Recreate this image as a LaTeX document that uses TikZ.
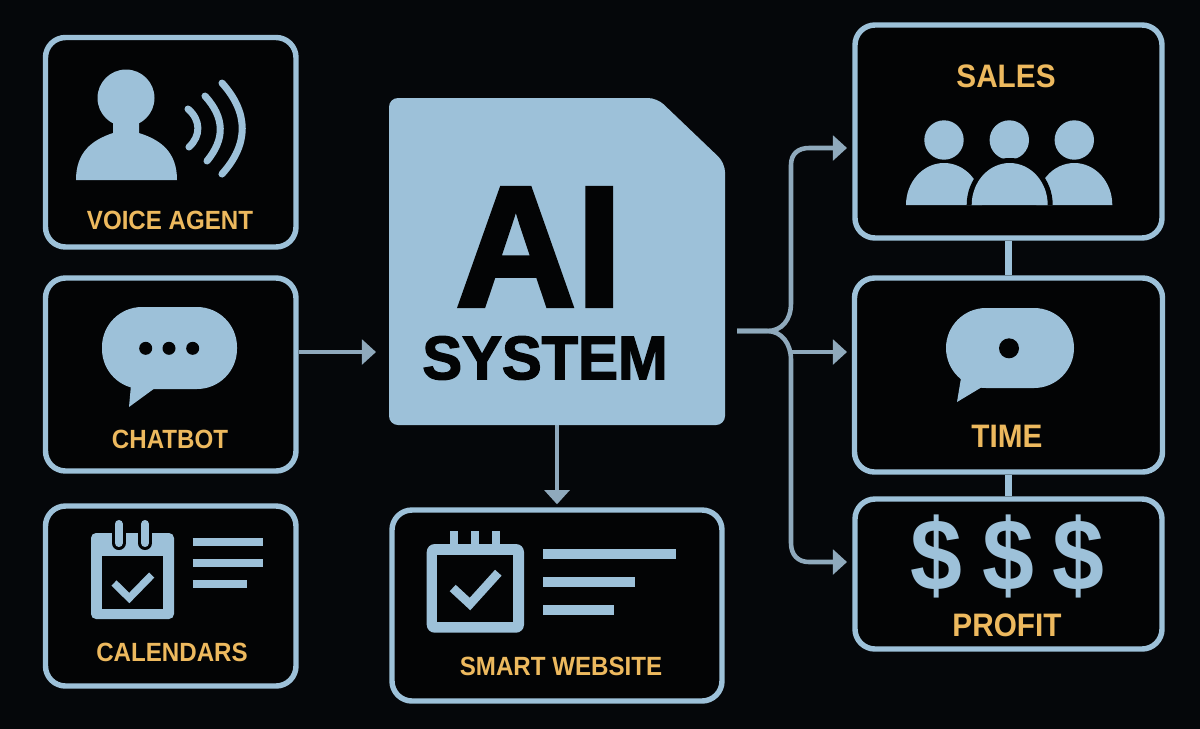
\documentclass[tikz,border=0pt]{standalone}
\usepackage{fontspec}
\usetikzlibrary{arrows.meta}
\setmainfont{Liberation Sans}
\newfontfamily\tagfont[FakeStretch=0.915]{Liberation Sans}
\newfontfamily\headfont[FakeStretch=0.97, BoldFeatures={FakeBold=2.2}]{Liberation Sans}
\definecolor{canvas}{HTML}{05070A}
\definecolor{panel}{HTML}{030405}
\definecolor{sky}{HTML}{9DC1D9}
\definecolor{amber}{HTML}{EDB95E}
\definecolor{steel}{HTML}{8FA9BC}
\def\px{0.02cm}
\tikzset{
	box/.style = {draw = sky, fill = panel, line width = 3.1pt, rounded corners = 0.4cm, inner sep = 0mm},
	boxtag/.style = {font = \tagfont\bfseries\fontsize{15}{15}\selectfont, text = amber, inner sep = 0mm},
	bigtag/.style = {font = \tagfont\bfseries\fontsize{18.5}{18.5}\selectfont, text = amber, inner sep = 0mm},
	icon/.style = {fill = sky},
	bar/.style = {draw = sky, line width = 4.5pt},
	wave/.style = {draw = sky, line width = 4pt, line cap = round},
	tick/.style = {draw = sky, line width = 4.2pt},
	hole/.style = {fill = panel},
	link/.style = {draw = steel, line width = 2.6pt, -{Triangle[length = 8pt, width = 14pt]}},
	joint/.style = {draw = sky, line width = 3.8pt},
	coin/.style = {font = \tagfont\bfseries\fontsize{58}{58}\selectfont, text = sky, inner sep = 0mm}
}

\begin{document}
\begin{tikzpicture}[x = 0.02cm, y = -0.02cm]
	\useasboundingbox (0, 0) rectangle (1200, 728);
	\fill [canvas] (-5, -5) rectangle (1205, 733);

	% panels
	\foreach\name/\x/\y/\w/\h in {
		voice/170.75/142.25/250.5/209.5, chat/170.75/374.5/250.5/193, cal/170.75/596/250.5/180,
		web/557/605.5/330/191,
		sales/1008.5/131.5/307/213, time/1008.5/375/308/194, profit/1008.5/574/307/150
	}{
		\node [box, minimum width = \w*\px, minimum height = \h*\px] (\name) at (\x, \y) {};
	}

	% centre block
	\node [inner sep = 0mm, minimum width = 336*\px, minimum height = 327*\px] (ai) at (557, 261.5) {};
	\fill [sky, rounded corners = 0.18cm] (389, 98) -- (657, 98) -- (725, 163) -- (725, 425) -- (389, 425) -- cycle;
	\node [font = \headfont\bfseries\fontsize{98}{98}\selectfont, text = panel, inner sep = 0mm] (aitag) at (539, 247) {AI};
	\node [font = \headfont\bfseries\fontsize{35}{35}\selectfont, text = panel, inner sep = 0mm] (systemtag) at (545, 358) {SYSTEM};

	% labels
	\node [boxtag] (voicetag) at (170, 220) {VOICE AGENT};
	\node [boxtag] (chattag) at (170, 439) {CHATBOT};
	\node [boxtag] (caltag) at (172, 652) {CALENDARS};
	\node [boxtag] (webtag) at (561, 666) {SMART WEBSITE};
	\node [bigtag] (salestag) at (1006, 76) {SALES};
	\node [bigtag] (timetag) at (1007, 436) {TIME};
	\node [bigtag] (profittag) at (1007, 625) {PROFIT};

	% voice icon
	\fill [icon] (126, 98) circle [radius = 28.5];
	\fill [icon] (76, 180) .. controls (76, 152) and (92, 140) .. (113, 133) -- (113, 115) -- (139, 115) -- (139, 133)
		.. controls (161, 140) and (177, 152) .. (177, 180) -- cycle;
	\draw [wave] (188, 109) .. controls (201, 120) and (201, 136) .. (189, 147);
	\draw [wave] (205, 96) .. controls (225, 118) and (225, 139) .. (207, 161);
	\draw [wave] (222, 83) .. controls (249, 113) and (249, 144) .. (222, 174);

	% chat icon
	\fill [icon, rounded corners = 0.8cm] (102, 307) rectangle (237, 389);
	\fill [icon] (131, 385) -- (129, 407) -- (155, 388) -- cycle;
	\foreach\x in {145.7, 169, 192.7}{
		\fill [hole] (\x, 348.3) circle [radius = 6.5];
	}

	% time icon
	\fill [icon, rounded corners = 0.8cm] (946, 308) rectangle (1074, 388);
	\fill [icon] (961, 378) -- (957, 402) -- (982, 387) -- cycle;
	\fill [hole] (1009, 348.3) circle [radius = 10];

	% calendar icon
	\fill [icon, rounded corners = 0.1cm] (91, 533) rectangle (174, 619);
	\fill [hole] (102, 556) rectangle (163, 609);
	\foreach\x in {118.7, 145}{
		\draw [panel, line width = 8pt, line cap = round] (\x, 524) -- (\x, 543);
		\draw [sky, line width = 4.6pt, line cap = round] (\x, 524) -- (\x, 543);
	}
	\draw [tick] (114, 583) -- (129.3, 598) -- (151.7, 575);
	\draw [bar] (192.7, 542.3) -- (263.3, 542.3);
	\draw [bar] (192.7, 563) -- (263.3, 563);
	\draw [bar] (192.7, 584) -- (246.7, 584);

	% website icon
	\foreach\x in {454, 475, 496}{
		\fill [icon] (\x - 3.7, 531) rectangle (\x + 3.7, 550);
	}
	\fill [icon, rounded corners = 0.16cm] (426.7, 544) rectangle (524, 632.7);
	\fill [hole] (437.3, 554.7) rectangle (513.3, 622.3);
	\draw [tick, line width = 5pt] (452.7, 588) -- (470, 604) -- (498.3, 572.7);
	\draw [bar, line width = 5.6pt] (543, 554.3) -- (676, 554.3);
	\draw [bar, line width = 5.6pt] (543, 582.3) -- (635, 582.3);
	\draw [bar, line width = 5.6pt] (543, 610.3) -- (614, 610.3);

	% people icon
	\foreach\x in {944, 1074.3}{
		\fill [icon] (\x, 140) circle [radius = 19.7];
		\fill [icon] (\x - 38, 205) arc [start angle = 180, end angle = 360, x radius = 38, y radius = 42] -- cycle;
	}
	\fill [icon] (1009.3, 140) circle [radius = 19.7];
	\fill [hole] (1009.7 - 43, 205) arc [start angle = 180, end angle = 360, x radius = 43, y radius = 47] -- cycle;
	\fill [icon] (1009.7 - 38, 205) arc [start angle = 180, end angle = 360, x radius = 38, y radius = 42] -- cycle;

	% profit icon
	\node [coin] (coina) at (936.7, 556.7) {\$};
	\node [coin] (coinb) at (1008, 556.7) {\$};
	\node [coin] (coinc) at (1078.7, 556.7) {\$};

	% connectors
	\coordinate (aiin) at (376, 352);
	\coordinate (aiout) at (737, 331);
	\coordinate (salesin) at (847, 148);
	\coordinate (timein) at (847, 352);
	\coordinate (profitin) at (847, 562);
	\draw [link] (chat.east |- aiin) -- (aiin);
	\draw [link, shorten > = 1.7pt] (ai.south) -- (web.north);
	\draw [link] (aiout) -- (767, 331) .. controls (782, 331) and (791, 320) .. (791, 303) -- (791, 165)
		.. controls (791, 154) and (798, 148) .. (809, 148) -- (salesin);
	\draw [link] (aiout) -- (767, 331) .. controls (782, 331) and (791, 344) .. (791, 360) -- (791, 543)
		.. controls (791, 555) and (798, 562) .. (809, 562) -- (profitin);
	\draw [link] (791, 352) -- (timein);
	\draw [joint] (sales.south) -- (time.north);
	\draw [joint] (time.south) -- (profit.north);
\end{tikzpicture}
\end{document}
